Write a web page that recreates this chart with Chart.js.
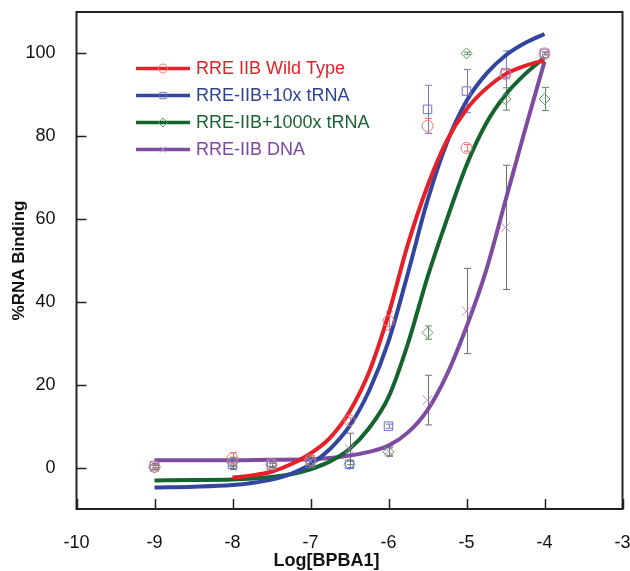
<!DOCTYPE html>
<html lang="en">
<head>
    <meta charset="UTF-8">
    <title>%RNA Binding vs Log[BPBA1]</title>
    <script src="https://cdn.jsdelivr.net/npm/chart.js"></script>
    <style>
        html, body { margin: 0; padding: 0; background: #fff; }
        #wrap { width: 630px; height: 571px; }
    </style>
</head>
<body>
    <div id="wrap"><canvas id="bindingChart"></canvas></div>

    <script>
        // Messpunkte (Konzentrationen)
        const concentrations = [-9, -8, -7.5, -7, -6.5, -6, -5.5, -5, -4.5, -4];

        const wildTypeValues = [0.2, 2.2, 0.8, 1.8, 11.4, 35.4, 82.5, 77.2, 95.0, 100];
        const wildTypeErrors = [0.5, 1.4, 0.6, 0.8, 0.6, 2.2, 1.8, 0.8, 1.0, 0.3];

        const tRNA10Values = [0.5, 0.8, 0.5, 1.0, 0.8, 10.0, 86.5, 90.9, 95.3, 100];
        const tRNA10Errors = [0.5, 0.5, 0.5, 0.5, 0.8, 0.5, 5.8, 5.2, 5.3, 0.3];

        const tRNA1000Values = [0.0, 1.2, 0.8, 1.6, 0.8, 3.8, 32.6, 100, 89.0, 89.0];
        const tRNA1000Errors = [0.5, 0.8, 0.5, 0.8, 0.8, 1.0, 1.6, 0.3, 2.7, 2.8];

        const dnaValues = [0.0, 1.0, 1.0, 1.5, 4.5, 4.0, 16.3, 37.8, 58.0, 100];
        const dnaErrors = [0.5, 1.5, 1.0, 1.5, 3.8, 1.2, 6.0, 10.3, 15.0, 0.3];

        // Fit-Kurven
        const wildTypeFitX = [-8, -7.75, -7.5, -7.25, -7, -6.75, -6.5, -6.25, -6, -5.75, -5.5, -5.25, -5, -4.75, -4.5, -4.25, -4];
        const wildTypeFitY = [-2.4, -1.9, -1.0, 0.8, 3.4, 7.2, 13.5, 23, 37, 54, 68, 79, 86.5, 91.5, 95, 97, 98.3];

        const tRNA10FitX = [-9, -8.5, -8, -7.75, -7.5, -7.25, -7, -6.75, -6.5, -6.25, -6, -5.75, -5.5, -5.25, -5, -4.75, -4.5, -4.25, -4];
        const tRNA10FitY = [-4.8, -4.6, -4.2, -3.7, -2.9, -1.5, 0.8, 4.5, 10, 18.5, 30.5, 47, 64.5, 78.5, 88.5, 95, 99.5, 102.5, 104.7];

        const tRNA1000FitX = [-9, -8.5, -8, -7.5, -7.25, -7, -6.75, -6.5, -6.25, -6, -5.75, -5.5, -5.25, -5, -4.75, -4.5, -4.25, -4];
        const tRNA1000FitY = [-3.1, -3.0, -2.9, -2.3, -1.6, -0.4, 1.5, 4.5, 9.5, 17, 30, 46, 60, 73, 83, 90, 95, 99];

        const dnaFitX = [-9, -8.5, -8, -7.5, -7, -6.75, -6.5, -6.25, -6, -5.75, -5.5, -5.25, -5, -4.75, -4.5, -4.25, -4];
        const dnaFitY = [1.8, 1.8, 1.8, 1.9, 2.0, 2.3, 2.9, 3.8, 5.3, 8.5, 13.9, 22.5, 34, 47.5, 64.5, 81.5, 98];

        // Achsen
        const xTicks = [-10, -9, -8, -7, -6, -5, -4, -3];
        const yTicks = [0, 20, 40, 60, 80, 100];
        const xTitle = 'Log[BPBA1]';

        const seriesNames = ['RRE IIB Wild Type', 'RRE-IIB+10x tRNA', 'RRE-IIB+1000x tRNA', 'RRE-IIB DNA'];

        const fontFamily = '"Liberation Sans", Arial, sans-serif';

        // Farben
        const colors = {
            wt:    { line: 'rgb(230,32,40)',  mark: 'rgb(240,120,120)', err: 'rgb(235,110,110)', text: 'rgb(230,32,40)' },
            t10:   { line: 'rgb(50,70,160)',  mark: 'rgb(115,115,200)', err: 'rgb(120,120,200)', text: 'rgb(45,65,150)' },
            t1000: { line: 'rgb(20,100,45)',  mark: 'rgb(95,150,95)',   err: 'rgb(95,140,95)',   text: 'rgb(25,100,50)' },
            dna:   { line: 'rgb(125,75,160)', mark: 'rgb(180,140,210)', err: 'rgb(110,110,110)', text: 'rgb(125,70,165)' }
        };

        const toPoints = (xs, ys) => xs.map((x, i) => ({ x: x, y: ys[i] }));

        function fitDataset(xs, ys, color) {
            return {
                type: 'line',
                data: toPoints(xs, ys),
                borderColor: color,
                borderWidth: 4,
                pointRadius: 0,
                fill: false,
                cubicInterpolationMode: 'monotone',
                order: 2
            };
        }

        function markDataset(values, errors, color, errColor, style, radius) {
            return {
                type: 'scatter',
                data: toPoints(concentrations, values),
                errors: errors,
                errColor: errColor,
                borderColor: color,
                backgroundColor: 'rgba(0,0,0,0)',
                borderWidth: 1,
                pointStyle: style,
                pointRadius: radius,
                pointHoverRadius: radius,
                order: 1
            };
        }

        // Fehlerbalken
        const errorBarPlugin = {
            id: 'errorBars',
            beforeDatasetsDraw(chart) {
                const ctx = chart.ctx;
                const xs = chart.scales.x, ys = chart.scales.y;
                ctx.save();
                chart.data.datasets.forEach(ds => {
                    if (!ds.errors) return;
                    ctx.strokeStyle = ds.errColor;
                    ctx.lineWidth = 1;
                    ds.data.forEach((p, i) => {
                        const e = ds.errors[i];
                        const px = Math.round(xs.getPixelForValue(p.x)) + 0.5;
                        const top = ys.getPixelForValue(p.y + e);
                        const bot = ys.getPixelForValue(p.y - e);
                        ctx.beginPath();
                        ctx.moveTo(px, top); ctx.lineTo(px, bot);
                        ctx.moveTo(px - 3.5, top); ctx.lineTo(px + 3.5, top);
                        ctx.moveTo(px - 3.5, bot); ctx.lineTo(px + 3.5, bot);
                        ctx.stroke();
                    });
                });
                ctx.restore();
            }
        };

        // Rahmen, Ticks nach innen, x-Titel, Legende
        const framePlugin = {
            id: 'frame',
            afterDraw(chart) {
                const ctx = chart.ctx;
                const a = chart.chartArea;
                const xs = chart.scales.x, ys = chart.scales.y;
                ctx.save();
                ctx.strokeStyle = '#222';
                ctx.lineWidth = 2;
                ctx.strokeRect(a.left, a.top, a.right - a.left, a.bottom - a.top);

                ctx.lineWidth = 1.5;
                ctx.beginPath();
                xTicks.forEach(v => {
                    const px = Math.round(xs.getPixelForValue(v)) + 0.5;
                    ctx.moveTo(px, a.bottom); ctx.lineTo(px, a.bottom - 10);
                });
                yTicks.forEach(v => {
                    const py = Math.round(ys.getPixelForValue(v)) + 0.5;
                    ctx.moveTo(a.left, py); ctx.lineTo(a.left + 10, py);
                });
                ctx.stroke();

                // x-Achsentitel (im Original etwas links von der Mitte)
                ctx.fillStyle = '#111';
                ctx.font = 'bold 18px ' + fontFamily;
                ctx.textAlign = 'center';
                ctx.textBaseline = 'middle';
                ctx.fillText(xTitle, (a.left + a.right) / 2 - 23, 561);

                // Legende
                const legend = [
                    { c: colors.wt, style: 'circle' },
                    { c: colors.t10, style: 'rect' },
                    { c: colors.t1000, style: 'rectRot' },
                    { c: colors.dna, style: 'crossRot' }
                ];
                ctx.font = '18px ' + fontFamily;
                ctx.textAlign = 'left';
                legend.forEach((item, i) => {
                    const y = 68.5 + i * 27;
                    ctx.strokeStyle = item.c.line;
                    ctx.lineWidth = 3.5;
                    ctx.beginPath();
                    ctx.moveTo(136, y); ctx.lineTo(190, y);
                    ctx.stroke();
                    ctx.lineWidth = 1;
                    ctx.strokeStyle = item.c.mark;
                    ctx.fillStyle = 'rgba(0,0,0,0)';
                    Chart.helpers.drawPoint(ctx, { pointStyle: item.style, radius: 4.5, borderWidth: 1, rotation: 0 }, 163, y);
                    ctx.fillStyle = item.c.text;
                    ctx.fillText(seriesNames[i], 196, y + 1);
                });
                ctx.restore();
            }
        };

        new Chart(document.getElementById('bindingChart'), {
            data: {
                datasets: [
                    fitDataset(wildTypeFitX, wildTypeFitY, colors.wt.line),
                    fitDataset(tRNA10FitX, tRNA10FitY, colors.t10.line),
                    fitDataset(tRNA1000FitX, tRNA1000FitY, colors.t1000.line),
                    fitDataset(dnaFitX, dnaFitY, colors.dna.line),
                    markDataset(wildTypeValues, wildTypeErrors, colors.wt.mark, colors.wt.err, 'circle', 5.5),
                    markDataset(tRNA10Values, tRNA10Errors, colors.t10.mark, colors.t10.err, 'rect', 6),
                    markDataset(tRNA1000Values, tRNA1000Errors, colors.t1000.mark, colors.t1000.err, 'rectRot', 5.5),
                    markDataset(dnaValues, dnaErrors, colors.dna.mark, colors.dna.err, 'crossRot', 6.5)
                ]
            },
            options: {
                responsive: true,
                maintainAspectRatio: false,
                animation: false,
                layout: { padding: { left: 0, right: 7.5, top: 12, bottom: 0 } },
                plugins: {
                    legend: { display: false },
                    tooltip: { enabled: false }
                },
                scales: {
                    x: {
                        type: 'linear',
                        min: -10,
                        max: -3,
                        grid: { display: false },
                        border: { display: false },
                        afterBuildTicks: s => { s.ticks = xTicks.map(v => ({ value: v })); },
                        afterFit: s => { s.height = 62; s.paddingLeft = 0; s.paddingRight = 0; },
                        ticks: {
                            color: '#111',
                            padding: 15,
                            maxRotation: 0,
                            autoSkip: false,
                            font: { family: fontFamily, size: 18 }
                        }
                    },
                    y: {
                        min: -10,
                        max: 110,
                        grid: { display: false },
                        border: { display: false },
                        afterBuildTicks: s => { s.ticks = yTicks.map(v => ({ value: v })); },
                        afterFit: s => { s.width = 76.5; s.paddingTop = 0; s.paddingBottom = 0; },
                        ticks: {
                            color: '#111',
                            padding: 13,
                            font: { family: fontFamily, size: 18 }
                        },
                        title: {
                            display: true,
                            text: '%RNA Binding',
                            color: '#111',
                            padding: { top: 11, bottom: 0 },
                            font: { family: fontFamily, size: 17, weight: 'bold', lineHeight: 1 }
                        }
                    }
                }
            },
            plugins: [errorBarPlugin, framePlugin]
        });
    </script>
</body>
</html>
